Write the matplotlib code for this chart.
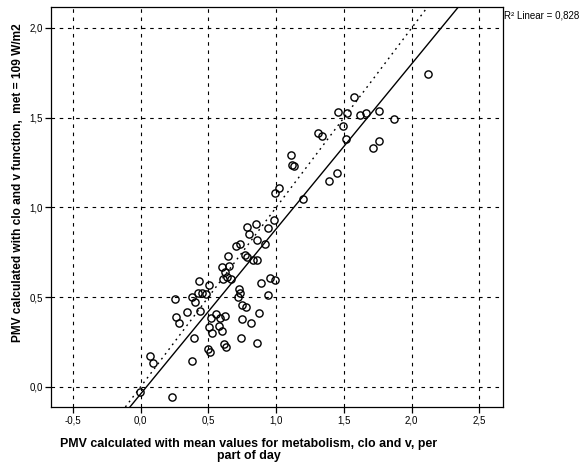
import numpy as np
import matplotlib.pyplot as plt
from matplotlib.ticker import FuncFormatter

# --------------------------------------------
# PMV per part of day: mean-value PMV vs. PMV from clo/v function
# --------------------------------------------

# data
pmv_mean = [-0.005, 0.233, 0.069, 0.093, 0.376, 0.253, 0.258, 0.283, 0.342, 0.393,
            0.438, 0.494, 0.511, 0.615, 0.633, 0.504, 0.528, 0.598, 0.580, 0.554,
            0.519, 0.587, 0.622, 0.740, 0.745, 0.376, 0.401, 0.421, 0.480, 0.716,
            0.745, 0.777, 0.873, 0.812, 0.861, 0.937, 0.733, 0.450, 0.428, 0.506,
            0.725, 0.890, 0.954, 0.991, 0.598, 0.654, 0.622, 0.610, 0.635, 0.664,
            0.646, 0.703, 0.733, 0.770, 0.782, 0.827, 0.861, 0.787, 0.849, 0.942,
            0.986, 0.801, 0.856, 0.917, 1.023, 0.991, 1.107, 1.131, 1.120, 1.200,
            1.392, 1.452, 1.311, 1.336, 1.491, 1.515, 1.454, 1.520, 1.572, 1.621,
            1.665, 1.760, 1.867, 1.711, 1.757, 2.118]
pmv_func = [-0.028, -0.056, 0.171, 0.134, 0.143, 0.489, 0.389, 0.357, 0.414, 0.273,
            0.422, 0.212, 0.191, 0.237, 0.223, 0.331, 0.297, 0.312, 0.341, 0.405,
            0.383, 0.381, 0.394, 0.270, 0.376, 0.502, 0.474, 0.525, 0.517, 0.503,
            0.455, 0.446, 0.412, 0.353, 0.242, 0.511, 0.521, 0.521, 0.591, 0.569,
            0.543, 0.576, 0.604, 0.595, 0.669, 0.673, 0.641, 0.599, 0.610, 0.599,
            0.729, 0.784, 0.794, 0.734, 0.725, 0.706, 0.706, 0.889, 0.905, 0.886,
            0.929, 0.851, 0.818, 0.795, 1.106, 1.078, 1.291, 1.230, 1.235, 1.045,
            1.149, 1.193, 1.416, 1.397, 1.451, 1.380, 1.533, 1.524, 1.616, 1.516,
            1.528, 1.537, 1.491, 1.333, 1.371, 1.743]

fit_slope = 0.92
fit_intercept = -0.04
r2_text = 'R² Linear = 0,828'

x_ticks = [-0.5, 0.0, 0.5, 1.0, 1.5, 2.0, 2.5]
y_ticks = [0.0, 0.5, 1.0, 1.5, 2.0]

# plot
plt.rcParams['font.family'] = ['Liberation Sans', 'DejaVu Sans']
fig = plt.figure(figsize=(5.84, 4.67), dpi=100)
ax = fig.add_axes([0.0873, 0.1285, 0.774, 0.8565])

ax.plot(pmv_mean, pmv_func, 'o', mfc='none', mec='black', ms=5.2, mew=1.0, zorder=4)
ax.axline((0, fit_intercept), slope=fit_slope, color='black', lw=1.0, zorder=3)
ax.axline((0, 0), slope=1, color='black', lw=1.0, ls=(0, (1.3, 3)), zorder=3)

ax.set_xlim(-0.662, 2.674)
ax.set_ylim(-0.113, 2.117)
ax.set_xticks(x_ticks)
ax.set_yticks(y_ticks)
comma = FuncFormatter(lambda v, pos: f'{v:.1f}'.replace('.', ','))
ax.xaxis.set_major_formatter(comma)
ax.yaxis.set_major_formatter(comma)
ax.tick_params(direction='out', length=4, width=0.9, labelsize=7, pad=2)
ax.grid(True, color='black', lw=0.8, ls=(0, (3.2, 4.2)))
ax.set_axisbelow(True)
for s in ax.spines.values():
    s.set_linewidth(0.9)

fig.text(249 / 584, 1 - 450 / 467,
         'PMV calculated with mean values for metabolism, clo and v, per\npart of day',
         ha='center', va='center', fontsize=8.9, fontweight='bold', linespacing=1.1)
fig.text(18 / 584, 1 - 183 / 467,
         'PMV calculated with clo and v function,  met = 109 W/m2',
         ha='center', va='center', rotation=90, fontsize=8.6, fontweight='bold')
fig.text(504 / 584, 1 - 16 / 467, r2_text, ha='left', va='center', fontsize=7)

fig.savefig('out.png', dpi=100)
